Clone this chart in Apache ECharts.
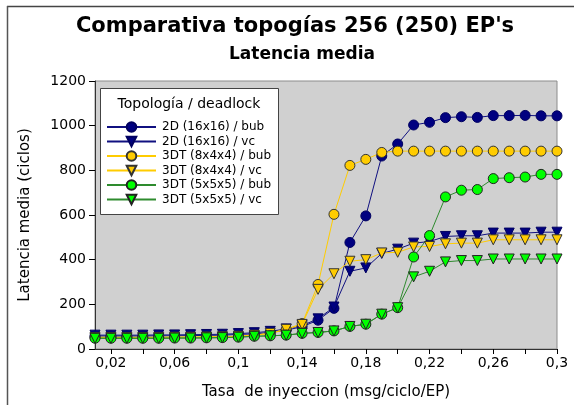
<!DOCTYPE html>
<html>
<head>
<meta charset="utf-8">
<script src="https://cdn.jsdelivr.net/npm/echarts@6/dist/echarts.min.js"></script>
<style>
html,body{margin:0;padding:0;background:#fff;}
#chart{width:574px;height:405px;}
</style>
</head>
<body>
<div id="chart"></div>
<script>
// ---- data ----
var rates = [0.01,0.02,0.03,0.04,0.05,0.06,0.07,0.08,0.09,0.10,
             0.11,0.12,0.13,0.14,0.15,0.16,0.17,0.18,0.19,0.20,
             0.21,0.22,0.23,0.24,0.25,0.26,0.27,0.28,0.29,0.30];
var seriesNames = ['2D (16x16) / bub','2D (16x16) / vc','3DT (8x4x4) / bub','3DT (8x4x4) / vc','3DT (5x5x5) / bub','3DT (5x5x5) / vc'];
var d2Bub  = [58,58,58,58,59,59,60,61,62,65,68,74,84,100,129,182,477,596,864,918,1003,1015,1036,1040,1037,1045,1045,1046,1044,1044];
var d2Vc   = [62,62,62,62,63,63,64,65,66,69,73,79,90,105,135,188,348,363,428,447,474,481,504,507,507,519,519,519,523,523];
var t8Bub  = [52,52,52,52,52,53,53,54,55,57,62,70,88,114,289,603,822,849,880,886,886,886,886,886,886,886,886,886,886,886];
var t8Vc   = [52,52,52,52,52,53,53,54,55,57,62,70,88,110,267,337,393,400,430,433,457,459,471,474,474,489,489,489,489,489];
var t5Bub  = [48,48,48,48,48,49,49,50,51,53,57,59,62,70,74,81,101,111,156,185,412,508,681,711,714,763,767,770,782,782];
var t5Vc   = [48,48,48,48,48,49,49,50,51,53,57,59,62,70,74,81,101,111,156,185,323,348,390,396,396,403,403,403,403,403];
var xTicks = [0.02,0.04,0.06,0.08,0.10,0.12,0.14,0.16,0.18,0.20,0.22,0.24,0.26,0.28,0.30];
var xTickLabels = [0.02,0.06,0.10,0.14,0.18,0.22,0.26,0.30];
var yTicks = [0,200,400,600,800,1000,1200];

function pairs(vals){ return rates.map(function(r,i){ return [r, vals[i]]; }); }

var FONT = 'DejaVu Sans';
var styles = [
  {line:'#101080', fill:'#000080', border:'#000060', sym:'circle', rot:0},
  {line:'#101080', fill:'#000080', border:'#000060', sym:'triangle', rot:180},
  {line:'#ffcc00', fill:'#ffcc00', border:'#333333', sym:'circle', rot:0},
  {line:'#ffcc00', fill:'#ffcc00', border:'#333333', sym:'triangle', rot:180},
  {line:'#2e8b2e', fill:'#00ff00', border:'#222222', sym:'circle', rot:0},
  {line:'#2e8b2e', fill:'#00ff00', border:'#222222', sym:'triangle', rot:180}
];
var allVals = [d2Bub, d2Vc, t8Bub, t8Vc, t5Bub, t5Vc];

var series = allVals.map(function(vals, i){
  var s = styles[i];
  return {
    name: seriesNames[i],
    type: 'line',
    data: pairs(vals),
    symbol: s.sym,
    symbolRotate: s.rot,
    symbolSize: 10,
    lineStyle: {color: s.line, width: 1},
    itemStyle: {color: s.fill, borderColor: s.border, borderWidth: 1},
    emphasis: {disabled: true},
    z: 3
  };
});

var chart = echarts.init(document.getElementById('chart'), null, {renderer:'canvas'});
chart.setOption({
  animation: false,
  title: [
    {text: "Comparativa topogías 256 (250) EP's", left: 290, top: 11, textAlign: 'center',
     textStyle: {fontFamily: FONT, fontSize: 21, fontWeight: 'bold', color: '#000'}},
    {text: 'Latencia media', left: 297, top: 41, textAlign: 'center',
     textStyle: {fontFamily: FONT, fontSize: 17, fontWeight: 'bold', color: '#000'}}
  ],
  grid: {left: 95, right: 17, top: 81, bottom: 55, show: true,
         backgroundColor: '#d0d0d0', borderColor: '#8c8c8c', borderWidth: 1, containLabel: false},
  xAxis: {
    type: 'value', min: 0.01, max: 0.3,
    name: 'Tasa  de inyeccion (msg/ciclo/EP)', nameLocation: 'middle', nameGap: 36,
    nameTextStyle: {fontFamily: FONT, fontSize: 15, color: '#000'},
    axisLine: {show: true, onZero: false, lineStyle: {color: '#333', width: 1}},
    axisTick: {show: true, length: 5, lineStyle: {color: '#000'}, customValues: xTicks},
    axisLabel: {fontFamily: FONT, fontSize: 14, color: '#000', margin: 7, customValues: xTickLabels,
                formatter: function(v){ return String(+Number(v).toFixed(2)).replace('.', ','); }},
    splitLine: {show: false}
  },
  yAxis: {
    type: 'value', min: 0, max: 1200, interval: 200,
    name: 'Latencia media (ciclos)', nameLocation: 'middle', nameGap: 62,
    nameTextStyle: {fontFamily: FONT, fontSize: 15, color: '#000'},
    axisLine: {show: true, lineStyle: {color: '#333', width: 1}},
    axisTick: {show: true, length: 6, lineStyle: {color: '#000'}},
    axisLabel: {fontFamily: FONT, fontSize: 14, color: '#000', margin: 9,
                formatter: function(v){ return String(v); }},
    splitLine: {show: false}
  },
  legend: {
    data: seriesNames,
    orient: 'vertical',
    left: 101, top: 116,
    itemWidth: 49, itemHeight: 12, itemGap: 2.5,
    textStyle: {fontFamily: FONT, fontSize: 12, color: '#000', padding: [0,0,0,1]},
    selectedMode: false,
    z: 10
  },
  graphic: [
    {type: 'line', shape: {x1: 7, y1: 6.5, x2: 574, y2: 6.5}, style: {stroke: '#444', lineWidth: 1.5}, z: 20},
    {type: 'line', shape: {x1: 7.5, y1: 6, x2: 7.5, y2: 405}, style: {stroke: '#555', lineWidth: 1.5}, z: 20},
    {type: 'rect', shape: {x: 100.5, y: 88.5, width: 178, height: 126},
     style: {fill: '#fff', stroke: '#444', lineWidth: 1}, z: 5},
    {type: 'text', x: 189, y: 104, style: {text: 'Topología / deadlock', font: '14px "DejaVu Sans"',
     fill: '#000', align: 'center', verticalAlign: 'middle'}, z: 6}
  ],
  series: series
});
</script>
</body>
</html>
